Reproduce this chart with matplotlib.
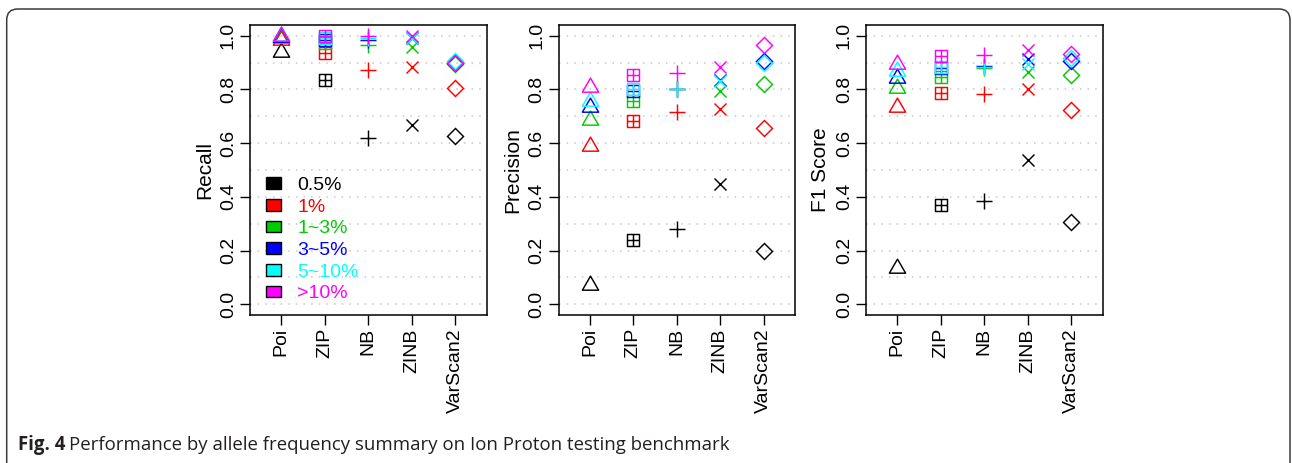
import numpy as np
import matplotlib
matplotlib.use("Agg")
import matplotlib.pyplot as plt
from matplotlib.path import Path
from matplotlib.patches import Patch, FancyBboxPatch
from matplotlib.transforms import IdentityTransform

plt.rcParams['font.family'] = ['Liberation Sans', 'DejaVu Sans']

methods = ["Poi", "ZIP", "NB", "ZINB", "VarScan2"]
groups = ["0.5%", "1%", "1~3%", "3~5%", "5~10%", ">10%"]
colors = ["#000000", "#FF0000", "#00CD00", "#0000FF", "#00FFFF", "#FF00FF"]

# rows: allele-frequency group, columns: method
recall = [
    [0.940, 0.836, 0.620, 0.666, 0.626],
    [0.984, 0.935, 0.872, 0.882, 0.807],
    [0.991, 0.972, 0.965, 0.957, 0.893],
    [0.996, 0.983, 0.985, 0.990, 0.898],
    [0.998, 0.990, 0.990, 0.990, 0.905],
    [1.000, 1.000, 1.000, 1.000, 0.900],
]
precision = [
    [0.072, 0.238, 0.280, 0.447, 0.200],
    [0.589, 0.681, 0.716, 0.729, 0.656],
    [0.688, 0.756, 0.800, 0.794, 0.821],
    [0.736, 0.795, 0.800, 0.837, 0.906],
    [0.758, 0.800, 0.800, 0.831, 0.900],
    [0.808, 0.854, 0.862, 0.885, 0.966],
]
f1 = [
    [0.135, 0.369, 0.386, 0.537, 0.305],
    [0.733, 0.788, 0.784, 0.800, 0.724],
    [0.805, 0.848, 0.879, 0.865, 0.853],
    [0.842, 0.880, 0.888, 0.912, 0.906],
    [0.869, 0.885, 0.884, 0.894, 0.916],
    [0.896, 0.925, 0.927, 0.946, 0.931],
]
panels = [("Recall", recall), ("Precision", precision), ("F1 Score", f1)]

# marker shapes (R pch 2, 12, 3, 4, 5)
tri = Path([(0, 1), (0.8660254, -0.5), (-0.8660254, -0.5), (0, 1)],
           [Path.MOVETO, Path.LINETO, Path.LINETO, Path.CLOSEPOLY])
sqplus = Path([(-1, -1), (1, -1), (1, 1), (-1, 1), (-1, -1),
               (-1, 0), (1, 0), (0, -1), (0, 1)],
              [Path.MOVETO, Path.LINETO, Path.LINETO, Path.LINETO, Path.CLOSEPOLY,
               Path.MOVETO, Path.LINETO, Path.MOVETO, Path.LINETO])
markers = [tri, sqplus, '+', 'x', 'D']
msizes = [13.5, 9.0, 12.0, 9.0, 8.5]

W, H = 1292, 463
fig = plt.figure(figsize=(W / 100, H / 100), dpi=100)

lefts = [250, 558.5, 866]
ax_w = 236.5
ax_bottom = 315
ax_top = 25
x = np.arange(1, len(methods) + 1)

for (label, data), lpx in zip(panels, lefts):
    ax = fig.add_axes([lpx / W, 1 - ax_bottom / H, ax_w / W, (ax_bottom - ax_top) / H])
    ax.set_xlim(0.28, 5.72)
    ax.set_ylim(-0.04, 1.04)
    for gy in np.arange(0, 1.01, 0.1):
        ax.axhline(gy, color='#C8C8C8', lw=1.1, ls=(0, (1, 4)), zorder=0)
    vals = np.array(data)
    for j in range(len(methods)):
        for i in range(len(groups)):
            ax.plot(x[j], vals[i, j], linestyle='none', marker=markers[j],
                    markersize=msizes[j], markerfacecolor='none',
                    markeredgecolor=colors[i], color=colors[i],
                    markeredgewidth=1.05, zorder=3)
    ax.set_xticks(x)
    ax.set_xticklabels(methods, rotation=90, fontsize=14)
    ax.set_yticks(np.arange(0, 1.01, 0.2))
    ax.set_yticklabels(["%.1f" % v for v in np.arange(0, 1.01, 0.2)],
                       rotation=90, va='center', fontsize=14)
    ax.tick_params(length=7, width=1.0, pad=2.5, color='black')
    for s in ax.spines.values():
        s.set_linewidth(1.1)
    ax.set_ylabel(label, fontsize=15, labelpad=4)

    if label == "Recall":
        handles = [Patch(facecolor=c, edgecolor='black', linewidth=1.0) for c in colors]
        leg = ax.legend(handles, groups, loc='lower left',
                        bbox_to_anchor=(0.066, 0.044), frameon=False,
                        fontsize=14, handlelength=0.78, handleheight=0.55,
                        handletextpad=0.85, labelspacing=0.24, borderpad=0,
                        borderaxespad=0)
        for t, c in zip(leg.get_texts(), colors):
            t.set_color(c)

# frame with rounded corners
frame = FancyBboxPatch((6.7, -30), 1290 - 6.7, H - 9 + 30,
                       boxstyle="round,pad=0,rounding_size=11",
                       transform=IdentityTransform(), facecolor='none',
                       edgecolor='#3a3a3a', linewidth=1.1)
fig.patches.append(frame)

# caption
cap_fs = 13.4
t1 = fig.text(18 / W, 1 - 450 / H, "Fig. 4", fontsize=cap_fs, fontweight='bold',
              family=['Open Sans', 'DejaVu Sans'], color='#231f20', va='baseline')
fig.canvas.draw()
bb = t1.get_window_extent(renderer=fig.canvas.get_renderer())
fig.text((bb.x1 + 4) / W, 1 - 450 / H,
         "Performance by allele frequency summary on Ion Proton testing benchmark",
         fontsize=cap_fs, family=['Open Sans', 'DejaVu Sans'], color='#231f20',
         va='baseline')

fig.savefig("out.png", dpi=100)
